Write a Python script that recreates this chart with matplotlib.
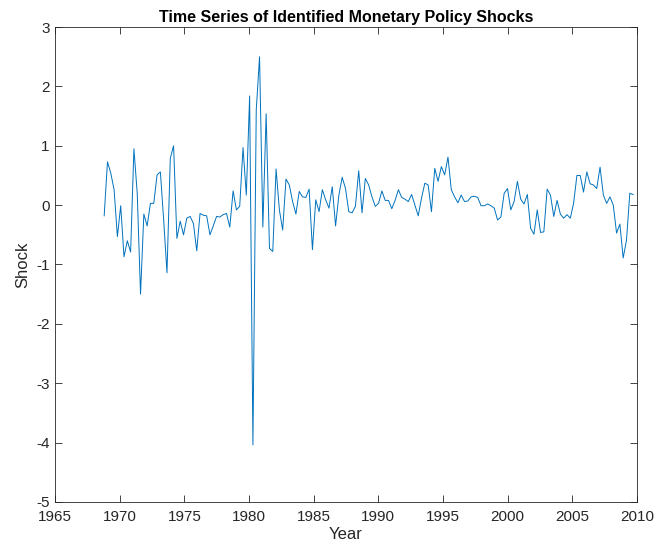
import numpy as np
import matplotlib
matplotlib.use("Agg")
import matplotlib.pyplot as plt

# shock values, one per period, 1969 -> 2009
shocks = [
    -0.18, 0.73, 0.54, 0.26, -0.53, -0.01, -0.87, -0.60, -0.79, 0.95,
    0.20, -1.50, -0.15, -0.35, 0.03, 0.03, 0.51, 0.56, -0.25, -1.14,
    0.79, 1.00, -0.56, -0.27, -0.50, -0.22, -0.19, -0.31, -0.77, -0.14,
    -0.17, -0.18, -0.50,
    -0.35, -0.19, -0.20, -0.16, -0.14, -0.37, 0.24, -0.08, -0.02, 0.97,
    0.17, 1.84, -4.04, 1.60, 2.50, -0.37, 1.54, -0.73, -0.78, 0.61,
    -0.08, -0.42, 0.44, 0.34, 0.06, -0.15, 0.23, 0.14, 0.13, 0.27,
    -0.75,
    0.09, -0.11, 0.26, 0.09, -0.05, 0.31, -0.35, 0.17, 0.47, 0.28,
    -0.11, -0.13, -0.02, 0.58, -0.13, 0.45, 0.34, 0.14, -0.02, 0.03,
    0.24, 0.08, 0.08, -0.06, 0.08, 0.26, 0.13, 0.10, 0.06, 0.18,
    0.00, -0.18, 0.12, 0.37, 0.34, -0.11, 0.62, 0.40, 0.65, 0.51,
    0.81, 0.26, 0.14, 0.04, 0.17, 0.06, 0.07, 0.14, 0.15, 0.13,
    -0.01, -0.01, 0.02, -0.01, -0.05, -0.25, -0.20, 0.20, 0.28, -0.08,
    0.06, 0.40, 0.10,
    0.02, 0.18, -0.39, -0.49, -0.08, -0.46, -0.45, 0.27, 0.17, -0.19,
    0.08, -0.15, -0.22, -0.16, -0.22, 0.03, 0.50, 0.50, 0.22, 0.56,
    0.36, 0.34, 0.28, 0.64, 0.17, 0.03, 0.14, 0.00, -0.47, -0.32,
    -0.89, -0.59, 0.20, 0.18,
]
first_year = 1968.8
last_year = 2009.7

x_ticks = [1965, 1970, 1975, 1980, 1985, 1990, 1995, 2000, 2005, 2010]
y_ticks = [-5, -4, -3, -2, -1, 0, 1, 2, 3]

plt.rcParams["font.family"] = ["Liberation Sans", "DejaVu Sans"]
plt.rcParams["axes.unicode_minus"] = False

years = np.linspace(first_year, last_year, len(shocks))

fig = plt.figure(figsize=(6.67, 5.42), dpi=100)
ax = fig.add_axes([0.0825, 0.074, 0.8725, 0.876])

ax.plot(years, shocks, color=(0, 0.447, 0.741), linewidth=0.7)

ax.set_xlim(1965, 2010)
ax.set_ylim(-5, 3)
ax.set_xticks(x_ticks)
ax.set_yticks(y_ticks)

ax.tick_params(direction="in", length=5, width=0.6, colors="#262626",
               labelsize=11, top=True, right=True)
ax.tick_params(axis="x", pad=6)
ax.tick_params(axis="y", pad=4)
for spine in ax.spines.values():
    spine.set_color("#262626")
    spine.set_linewidth(0.6)

ax.set_title("Time Series of Identified Monetary Policy Shocks",
             fontsize=11.5, fontweight="bold", pad=4)
ax.set_xlabel("Year", fontsize=12, color="#262626", labelpad=2)
ax.set_ylabel("Shock", fontsize=12, color="#262626", labelpad=4)

fig.savefig("out.png", dpi=100)
